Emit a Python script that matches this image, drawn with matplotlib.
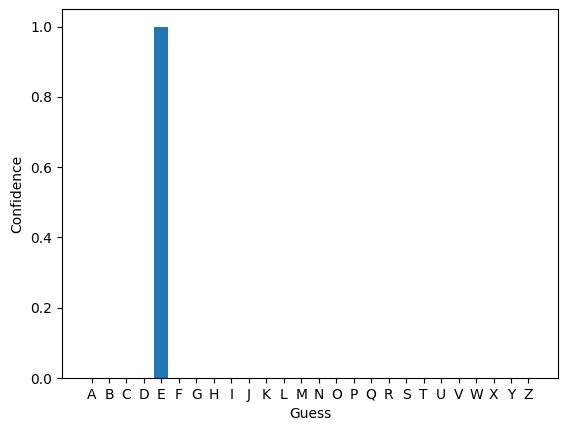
import matplotlib
matplotlib.use("Agg")
import matplotlib.pyplot as plt

letters = [chr(c) for c in range(ord('A'), ord('Z') + 1)]
confidence = [0.0] * 26
confidence[letters.index('E')] = 1.0

fig = plt.figure(figsize=(5.67, 4.32), dpi=100)
ax = fig.add_axes([62/567, 1 - 378/432, 496/567, 369/432])
ax.bar(range(len(letters)), confidence, color='#1f77b4')
ax.set_xticks(range(len(letters)))
ax.set_xticklabels(letters)
ax.set_xlabel('Guess')
ax.set_ylabel('Confidence')
fig.savefig('out.png', dpi=100)
